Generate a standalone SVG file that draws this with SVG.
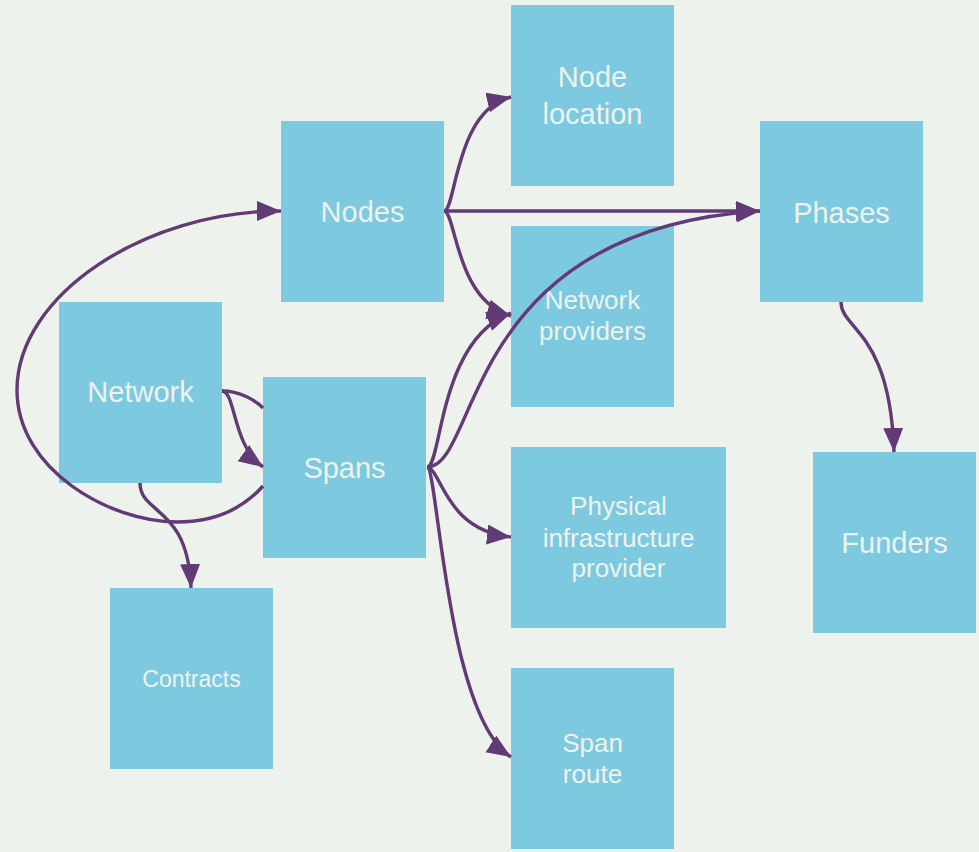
<svg xmlns="http://www.w3.org/2000/svg" width="979" height="852" viewBox="0 0 979 852">
<defs>
<style>
.box{fill:#7dc9e0}
.t{font-family:"Liberation Sans",Arial,sans-serif;fill:#eef2ec;text-anchor:middle}
.big{font-size:29px}
.mid{font-size:26px}
.sm{font-size:23px}
.e{fill:none;stroke:#623a76;stroke-width:3.4;marker-end:url(#ah)}
.n{fill:none;stroke:#623a76;stroke-width:3.4}
</style>
<marker id="ah" markerUnits="userSpaceOnUse" markerWidth="26" markerHeight="22" refX="24" refY="10" orient="auto">
<path d="M0,0 L24,10 L0,20 z" fill="#623a76"/>
</marker>
</defs>
<rect width="979" height="852" fill="#eef2ed"/>
<g id="node-location"><rect class="box" x="511" y="5" width="163" height="181"/><text class="t big" x="592.5" y="87">Node</text><text class="t big" x="592.5" y="124">location</text></g>
<g id="nodes"><rect class="box" x="281" y="121" width="163" height="181"/><text class="t big" x="362.5" y="222">Nodes</text></g>
<g id="phases"><rect class="box" x="760" y="121" width="163" height="181"/><text class="t big" x="841.5" y="223">Phases</text></g>
<g id="network-providers"><rect class="box" x="511" y="226" width="163" height="181"/><text class="t mid" x="592.5" y="309">Network</text><text class="t mid" x="592.5" y="340">providers</text></g>
<g id="network"><rect class="box" x="59" y="302" width="163" height="181"/><text class="t big" x="140.5" y="402">Network</text></g>
<g id="spans"><rect class="box" x="263" y="377" width="163" height="181"/><text class="t big" x="344.5" y="478">Spans</text></g>
<g id="physical-infrastructure-provider"><rect class="box" x="511" y="447" width="215" height="181"/><text class="t mid" x="618.5" y="515">Physical</text><text class="t mid" x="618.5" y="547">infrastructure</text><text class="t mid" x="618.5" y="577">provider</text></g>
<g id="funders"><rect class="box" x="813" y="452" width="163" height="181"/><text class="t big" x="894.5" y="553">Funders</text></g>
<g id="contracts"><rect class="box" x="110" y="588" width="163" height="181"/><text class="t sm" x="191.5" y="687">Contracts</text></g>
<g id="span-route"><rect class="box" x="511" y="668" width="163" height="181"/><text class="t mid" x="592.5" y="752">Span</text><text class="t mid" x="592.5" y="783">route</text></g>
<g id="connectors">
<path class="e" d="M444,211 C456,211 455,110 511,97"/>
<path class="e" d="M444,211 L760,211"/>
<path class="e" d="M444,211 C456,211 455,300 511,316"/>
<path class="e" d="M427,467 C442,467 438,340 511,313"/>
<path class="e" d="M427,467 C480,467 460,230 760,211"/>
<path class="e" d="M427,467 C442,470 445,530 511,537"/>
<path class="e" d="M427,467 C438,467 446,715 511,757"/>
<path class="e" d="M222,391 C236,392 232,445 263,467"/>
<path class="n" d="M222,391 C240,391 255,400 263,408"/>
<path class="e" d="M263,486 C240,512 210,522 177,522 C110,522 17,470 17,390 C17,295 145,211 281,211"/>
<path class="e" d="M140,483 C140,515 188,505 191,588"/>
<path class="e" d="M841,302 C841,330 890,330 894,452"/>
</g>
</svg>
